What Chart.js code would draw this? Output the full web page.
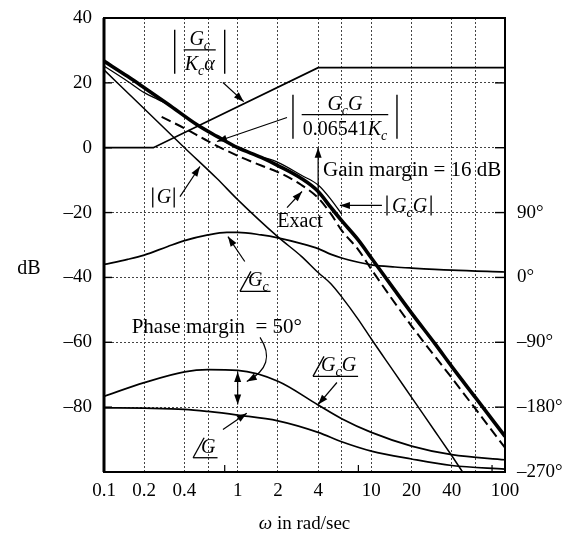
<!DOCTYPE html>
<html>
<head>
<meta charset="utf-8">
<script src="https://cdn.jsdelivr.net/npm/chart.js@4.4.1/dist/chart.umd.min.js"></script>
<style>
  html, body { margin: 0; padding: 0; background: #fff; }
  #wrap { width: 569px; height: 544px; }
</style>
</head>
<body>
<div id="wrap"><canvas id="bode" width="569" height="544"></canvas></div>
<script>
// ---- data (omega in rad/sec, magnitude in dB, phase in degrees) ----
const xGrid = [0.1, 0.2, 0.4, 0.6, 1, 2, 4, 6, 10, 20, 40, 60, 100];
const xLabels = [0.1, 0.2, 0.4, 1, 2, 4, 10, 20, 40, 100];
const xMinor = [0.8, 8, 80];
const phaseTicks = [-270, -180, -90, 0, 90];

// |Gc / (Kc alpha)| asymptote
const gcW = [0.1, 0.234, 4, 100];
const gcDb = [0, 0, 24.7, 24.7];

// |G|
const gW = [0.1, 0.2, 0.4, 0.7, 1, 2, 3, 4, 5, 6, 8, 10, 15, 20, 30, 40, 50];
const gDb = [24, 12, 0, -9.5, -16, -27.5, -33.5, -38.5, -42, -46, -53, -59, -69.5, -77, -87.5, -95, -101];

// |GcG| (heavy line)
const gcgW = [0.1, 0.15, 0.2, 0.3, 0.5, 0.7, 1, 1.5, 2, 3, 4, 5, 6, 8, 10, 15, 20, 30, 40, 60, 100];
const gcgDb = [26.7, 22, 18.5, 13.5, 7, 3.5, 0, -3, -5.5, -9.5, -13.5, -18.5, -22.5, -28.5, -34, -44, -51, -60.5, -67.5, -77, -89];

// exact curve pieces (thin) beside the heavy line
const exLowW = [0.1, 0.15, 0.2, 0.25, 0.3];
const exLowDb = [25.2, 20.5, 17, 15, 13.5];
const exMidW = [1.5, 2, 3, 4, 5, 6];
const exMidDb = [-2.8, -4.5, -8.5, -11.5, -16, -20.5];

// |GcG / 0.06541Kc| (dashed)
const scW = [0.27, 0.4, 0.6, 1, 1.5, 2, 3, 4, 5, 6, 8, 10, 20, 40, 100];
const scDb = [9.5, 6, 2, -2.5, -5.5, -7.5, -11.5, -15.5, -20.5, -25.5, -31.5, -37.5, -55, -71, -92.5];

// phase of Gc, G and GcG
const phGcW = [0.1, 0.15, 0.2, 0.3, 0.4, 0.6, 0.83, 1, 1.5, 2, 3, 4, 5, 6, 8, 10, 15, 20, 40, 100];
const phGcDeg = [18, 25, 31, 43, 51, 59, 62.5, 62.5, 59, 55, 47, 40, 32, 27, 21, 17.5, 14.5, 13, 10, 7.5];
const phGW = [0.1, 0.2, 0.4, 0.6, 1, 2, 4, 6, 10, 20, 40, 100];
const phGDeg = [-181, -181.5, -183, -186, -191, -199, -215, -228, -241, -252, -261, -266];
const phGcgW = [0.1, 0.2, 0.4, 0.6, 1, 2, 4, 6, 10, 20, 40, 100];
const phGcgDeg = [-165, -146, -131, -128, -129, -144, -177, -196, -215, -234, -246, -253];

const FONT = '"Liberation Serif", "Times New Roman", serif';
const pts = (ws, vs) => ws.map((w, i) => ({ x: w, y: vs[i] }));
const dash = v => (v < 0 ? '\u2013' + Math.abs(v) : String(v));

function line(opts) {
    return Object.assign({
        borderColor: '#000', backgroundColor: '#000', borderWidth: 1.6,
        pointRadius: 0, fill: false, tension: 0, clip: 0, yAxisID: 'y'
    }, opts);
}

// rich text: segs = [[text, style]] style has 'i' italic, 's' subscript
function rich(ctx, segs, x, y, align, size) {
    size = size || 20;
    let w = 0;
    const parts = segs.map(([t, st]) => {
        const sz = st.includes('s') ? Math.round(size * 0.7) : size;
        const f = (st.includes('i') ? 'italic ' : '') + sz + 'px ' + FONT;
        ctx.font = f;
        const pw = ctx.measureText(t).width;
        w += pw;
        return { t, f, pw, dy: st.includes('s') ? size * 0.25 : 0 };
    });
    let cx = align === 'center' ? x - w / 2 : align === 'right' ? x - w : x;
    parts.forEach(p => { ctx.font = p.f; ctx.fillText(p.t, cx, y + p.dy); cx += p.pw; });
    return w;
}

function seg(ctx, x1, y1, x2, y2, lw) {
    ctx.lineWidth = lw || 1.2;
    ctx.beginPath(); ctx.moveTo(x1, y1); ctx.lineTo(x2, y2); ctx.stroke();
}

function head(ctx, fx, fy, tx, ty) {
    const a = Math.atan2(ty - fy, tx - fx), L = 10, H = 3.5;
    ctx.beginPath();
    ctx.moveTo(tx, ty);
    ctx.lineTo(tx - L * Math.cos(a) + H * Math.sin(a), ty - L * Math.sin(a) - H * Math.cos(a));
    ctx.lineTo(tx - L * Math.cos(a) - H * Math.sin(a), ty - L * Math.sin(a) + H * Math.cos(a));
    ctx.closePath(); ctx.fill();
}

function arrow(ctx, x1, y1, x2, y2) { seg(ctx, x1, y1, x2, y2); head(ctx, x1, y1, x2, y2); }

// the book's angle sign: a slash standing on an underline
function angle(ctx, segs, x, yb) {
    const yu = yb + 5;
    seg(ctx, x, yu, x + 11, yu - 20, 1.3);
    const w = rich(ctx, segs, x + 8, yb, 'left');
    seg(ctx, x, yu, x + 10 + w, yu, 1.3);
}

function fraction(ctx, cx, ly, num, den, halfW) {
    rich(ctx, num, cx, ly - 5, 'center');
    const w = rich(ctx, den, cx, ly + 20, 'center');
    seg(ctx, cx - w / 2 - 1, ly, cx + w / 2 + 1, ly, 1.2);
    seg(ctx, cx - halfW, ly - 20, cx - halfW, ly + 24, 1.4);
    seg(ctx, cx + halfW, ly - 20, cx + halfW, ly + 24, 1.4);
}

const annotate = {
    id: 'annotate',
    afterDatasetsDraw(chart) {
        const { ctx, chartArea: a, scales } = chart;
        const X = w => scales.x.getPixelForValue(w);
        const Y = d => scales.y.getPixelForValue(d);
        ctx.save();
        ctx.strokeStyle = '#000'; ctx.fillStyle = '#000';
        ctx.textBaseline = 'alphabetic'; ctx.textAlign = 'left';

        // frame and small inward ticks
        ctx.lineWidth = 2;
        ctx.strokeRect(a.left, a.top, a.right - a.left, a.bottom - a.top);
        seg(ctx, a.left, a.top, a.left, a.bottom, 3);
        [20, 0, -20, -40, -60, -80].forEach(d => {
            seg(ctx, a.left, Y(d), a.left + 8, Y(d), 1.4);
            seg(ctx, a.right - 10, Y(d), a.right, Y(d), 1.4);
        });
        xMinor.forEach(w => seg(ctx, X(w), a.bottom, X(w), a.bottom - 7, 1.2));

        // |Gc / Kc alpha|
        fraction(ctx, X(0.52), Y(30.2), [['G', 'i'], ['c', 'is']], [['K', 'i'], ['c', 'is'], ['\u03b1', 'i']], 25);
        arrow(ctx, X(0.776), Y(20.1), X(1.11), Y(14.2));

        // |GcG / 0.06541Kc|
        fraction(ctx, X(6.35), Y(10.2), [['G', 'i'], ['c', 'is'], ['G', 'i']], [['0.06541', ''], ['K', 'i'], ['c', 'is']], 52);
        arrow(ctx, X(2.34), Y(9.3), X(0.70), Y(1.9));

        // |G|
        const gx = X(0.281), gy = Y(-17.2);
        ctx.font = 'italic 20px ' + FONT;
        const gw = ctx.measureText('G').width;
        ctx.fillText('G', gx - gw / 2, gy);
        seg(ctx, gx - gw / 2 - 4, gy - 16, gx - gw / 2 - 4, gy + 4, 1.3);
        seg(ctx, gx + gw / 2 + 3, gy - 16, gx + gw / 2 + 3, gy + 4, 1.3);
        arrow(ctx, X(0.37), Y(-15.1), X(0.522), Y(-5.8));

        // Exact
        rich(ctx, [['Exact', '']], X(2.93), Y(-24.6), 'center');
        arrow(ctx, X(2.34), Y(-18.5), X(3.03), Y(-13.5));

        // Gain margin
        rich(ctx, [['Gain margin = 16 dB', '']], X(4.35), Y(-8.6), 'left', 21);
        arrow(ctx, X(4), Y(-16), X(4), Y(0));

        // |GcG|
        const lx = X(13.1), ly = Y(-19.7);
        const lw = rich(ctx, [['G', 'i'], ['c', 'is'], ['G', 'i']], lx + 5, ly, 'left');
        seg(ctx, lx, ly - 16, lx, ly + 4, 1.3);
        seg(ctx, lx + lw + 9, ly - 16, lx + lw + 9, ly + 4, 1.3);
        arrow(ctx, X(12), Y(-17.8), X(5.82), Y(-17.8));

        // phase of Gc
        angle(ctx, [['G', 'i'], ['c', 'is']], X(1.04), Y(-44.3) - 5);
        arrow(ctx, X(1.13), Y(-35.1), X(0.846), Y(-27.4));

        // phase margin
        rich(ctx, [['Phase margin  = 50\u00b0', '']], X(0.161), Y(-57.2), 'left', 21);
        ctx.lineWidth = 1.2;
        ctx.beginPath();
        ctx.moveTo(X(1.47), Y(-58.5));
        ctx.quadraticCurveTo(X(2.0), Y(-67), X(1.17), Y(-72.1));
        ctx.stroke();
        head(ctx, X(1.6), Y(-69), X(1.17), Y(-72.1));
        arrow(ctx, X(1), Y(-74), X(1), Y(-69.2));
        arrow(ctx, X(1), Y(-74), X(1), Y(-79.2));

        // phase of GcG
        angle(ctx, [['G', 'i'], ['c', 'is'], ['G', 'i']], X(3.66), Y(-70.5) - 5);
        arrow(ctx, X(5.53), Y(-72.4), X(4.0), Y(-79.2));

        // phase of G
        angle(ctx, [['G', 'i']], X(0.464), Y(-95.6) - 5);
        arrow(ctx, X(0.776), Y(-86.9), X(1.17), Y(-81.9));

        // axis titles
        rich(ctx, [['dB', '']], 29, Y(-37) + 6, 'center');
        rich(ctx, [['\u03c9', 'i'], [' in rad/sec', '']], (a.left + a.right) / 2, 529, 'center', 19);
        ctx.restore();
    }
};

// keep the vertical scales from pushing the plot area down for their end labels
const noPad = s => { s.paddingTop = 0; s.paddingBottom = 0; };

new Chart(document.getElementById('bode'), {
    type: 'line',
    data: {
        datasets: [
            line({ data: pts(gcW, gcDb), borderWidth: 1.8 }),
            line({ data: pts(gW, gDb), borderWidth: 1.5, cubicInterpolationMode: 'monotone' }),
            line({ data: pts(gcgW, gcgDb), borderWidth: 3.6, cubicInterpolationMode: 'monotone' }),
            line({ data: pts(exLowW, exLowDb), borderWidth: 1.3, cubicInterpolationMode: 'monotone' }),
            line({ data: pts(exMidW, exMidDb), borderWidth: 1.3, cubicInterpolationMode: 'monotone' }),
            line({ data: pts(scW, scDb), borderWidth: 2, borderDash: [10, 5], cubicInterpolationMode: 'monotone' }),
            line({ data: pts(phGcW, phGcDeg), yAxisID: 'y2', borderWidth: 1.7, cubicInterpolationMode: 'monotone' }),
            line({ data: pts(phGW, phGDeg), yAxisID: 'y2', borderWidth: 1.7, cubicInterpolationMode: 'monotone' }),
            line({ data: pts(phGcgW, phGcgDeg), yAxisID: 'y2', borderWidth: 1.7, cubicInterpolationMode: 'monotone' })
        ]
    },
    options: {
        responsive: false,
        animation: false,
        layout: { padding: { top: 18, left: 0, right: 0, bottom: 0 } },
        plugins: { legend: { display: false }, tooltip: { enabled: false } },
        scales: {
            x: {
                type: 'logarithmic', min: 0.1, max: 100,
                afterBuildTicks: s => { s.ticks = xGrid.map(v => ({ value: v })); },
                afterFit: s => { s.height = 72; },
                ticks: {
                    autoSkip: false, maxRotation: 0, padding: 8, color: '#000',
                    font: { family: FONT, size: 19 },
                    callback: v => (xLabels.includes(v) ? String(v) : '')
                },
                grid: { color: '#444', lineWidth: 1, drawTicks: false },
                border: { display: false, dash: [2, 2] }
            },
            y: {
                min: -100, max: 40,
                afterFit: s => { s.width = 104; noPad(s); },
                ticks: {
                    stepSize: 20, padding: 12, color: '#000',
                    font: { family: FONT, size: 19 },
                    callback: v => (v === -100 ? '' : dash(v))
                },
                grid: { color: '#444', lineWidth: 1, drawTicks: false },
                border: { display: false, dash: [2, 2] }
            },
            y2: {
                position: 'right', min: -270, max: 360,
                afterBuildTicks: s => { s.ticks = phaseTicks.map(v => ({ value: v })); },
                afterFit: s => { s.width = 64; noPad(s); },
                ticks: {
                    padding: 12, color: '#000',
                    font: { family: FONT, size: 19 },
                    callback: v => dash(v) + '\u00b0'
                },
                grid: { display: false, drawTicks: false },
                border: { display: false }
            }
        }
    },
    plugins: [annotate]
});
</script>
</body>
</html>
